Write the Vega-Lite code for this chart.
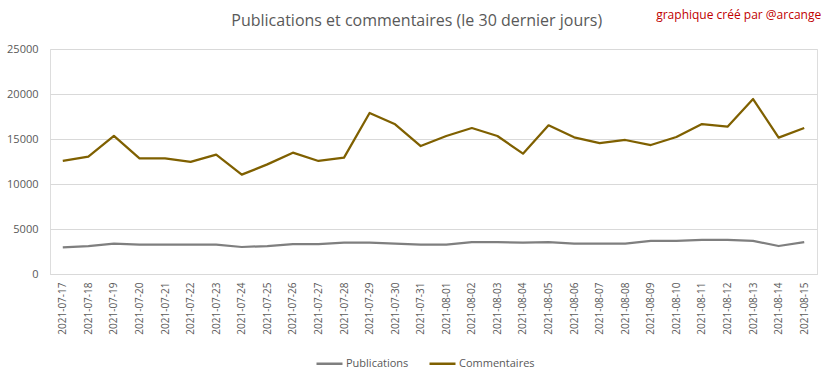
{
  "$schema": "https://vega.github.io/schema/vega-lite/v6.json",
  "width": 767,
  "height": 225,
  "autosize": {"type": "none"},
  "padding": {"left": 50, "top": 49, "right": 15, "bottom": 104},
  "background": "white",
  "datasets": {
    "series": [
      {"date": "2021-07-17", "serie": "Publications", "valeur": 2950},
      {"date": "2021-07-18", "serie": "Publications", "valeur": 3110},
      {"date": "2021-07-19", "serie": "Publications", "valeur": 3370},
      {"date": "2021-07-20", "serie": "Publications", "valeur": 3260},
      {"date": "2021-07-21", "serie": "Publications", "valeur": 3260},
      {"date": "2021-07-22", "serie": "Publications", "valeur": 3260},
      {"date": "2021-07-23", "serie": "Publications", "valeur": 3260},
      {"date": "2021-07-24", "serie": "Publications", "valeur": 3000},
      {"date": "2021-07-25", "serie": "Publications", "valeur": 3110},
      {"date": "2021-07-26", "serie": "Publications", "valeur": 3330},
      {"date": "2021-07-27", "serie": "Publications", "valeur": 3330},
      {"date": "2021-07-28", "serie": "Publications", "valeur": 3480},
      {"date": "2021-07-29", "serie": "Publications", "valeur": 3480},
      {"date": "2021-07-30", "serie": "Publications", "valeur": 3370},
      {"date": "2021-07-31", "serie": "Publications", "valeur": 3260},
      {"date": "2021-08-01", "serie": "Publications", "valeur": 3260},
      {"date": "2021-08-02", "serie": "Publications", "valeur": 3550},
      {"date": "2021-08-03", "serie": "Publications", "valeur": 3550},
      {"date": "2021-08-04", "serie": "Publications", "valeur": 3480},
      {"date": "2021-08-05", "serie": "Publications", "valeur": 3550},
      {"date": "2021-08-06", "serie": "Publications", "valeur": 3370},
      {"date": "2021-08-07", "serie": "Publications", "valeur": 3370},
      {"date": "2021-08-08", "serie": "Publications", "valeur": 3370},
      {"date": "2021-08-09", "serie": "Publications", "valeur": 3670},
      {"date": "2021-08-10", "serie": "Publications", "valeur": 3670},
      {"date": "2021-08-11", "serie": "Publications", "valeur": 3780},
      {"date": "2021-08-12", "serie": "Publications", "valeur": 3780},
      {"date": "2021-08-13", "serie": "Publications", "valeur": 3670},
      {"date": "2021-08-14", "serie": "Publications", "valeur": 3110},
      {"date": "2021-08-15", "serie": "Publications", "valeur": 3550},
      {"date": "2021-07-17", "serie": "Commentaires", "valeur": 12560},
      {"date": "2021-07-18", "serie": "Commentaires", "valeur": 13030},
      {"date": "2021-07-19", "serie": "Commentaires", "valeur": 15350},
      {"date": "2021-07-20", "serie": "Commentaires", "valeur": 12850},
      {"date": "2021-07-21", "serie": "Commentaires", "valeur": 12850},
      {"date": "2021-07-22", "serie": "Commentaires", "valeur": 12450},
      {"date": "2021-07-23", "serie": "Commentaires", "valeur": 13260},
      {"date": "2021-07-24", "serie": "Commentaires", "valeur": 11040},
      {"date": "2021-07-25", "serie": "Commentaires", "valeur": 12180},
      {"date": "2021-07-26", "serie": "Commentaires", "valeur": 13480},
      {"date": "2021-07-27", "serie": "Commentaires", "valeur": 12560},
      {"date": "2021-07-28", "serie": "Commentaires", "valeur": 12930},
      {"date": "2021-07-29", "serie": "Commentaires", "valeur": 17890},
      {"date": "2021-07-30", "serie": "Commentaires", "valeur": 16630},
      {"date": "2021-07-31", "serie": "Commentaires", "valeur": 14220},
      {"date": "2021-08-01", "serie": "Commentaires", "valeur": 15330},
      {"date": "2021-08-02", "serie": "Commentaires", "valeur": 16220},
      {"date": "2021-08-03", "serie": "Commentaires", "valeur": 15330},
      {"date": "2021-08-04", "serie": "Commentaires", "valeur": 13370},
      {"date": "2021-08-05", "serie": "Commentaires", "valeur": 16520},
      {"date": "2021-08-06", "serie": "Commentaires", "valeur": 15190},
      {"date": "2021-08-07", "serie": "Commentaires", "valeur": 14550},
      {"date": "2021-08-08", "serie": "Commentaires", "valeur": 14890},
      {"date": "2021-08-09", "serie": "Commentaires", "valeur": 14330},
      {"date": "2021-08-10", "serie": "Commentaires", "valeur": 15220},
      {"date": "2021-08-11", "serie": "Commentaires", "valeur": 16660},
      {"date": "2021-08-12", "serie": "Commentaires", "valeur": 16370},
      {"date": "2021-08-13", "serie": "Commentaires", "valeur": 19440},
      {"date": "2021-08-14", "serie": "Commentaires", "valeur": 15150},
      {"date": "2021-08-15", "serie": "Commentaires", "valeur": 16220}
    ],
    "textes": [
      {"date": "2021-08-15", "texte": "graphique créé par @arcange", "role": "credit"},
      {"date": "2021-07-31", "texte": "Publications et commentaires (le 30 dernier jours)", "role": "titre"}
    ]
  },
  "layer": [
    {
      "data": {"name": "series"},
      "mark": {"type": "line", "strokeWidth": 2.25, "strokeJoin": "round"},
      "encoding": {
        "x": {
          "field": "date",
          "type": "ordinal",
          "scale": {"type": "point", "padding": 0.5},
          "axis": {
            "title": null,
            "labelAngle": -90,
            "labelFont": "Open Sans",
            "labelFontSize": 10,
            "labelColor": "#595959",
            "labelPadding": 8,
            "ticks": false,
            "domainColor": "#d9d9d9",
            "grid": false
          }
        },
        "y": {
          "field": "valeur",
          "type": "quantitative",
          "scale": {"domain": [0, 25000], "nice": false, "zero": true},
          "axis": {
            "title": null,
            "values": [0, 5000, 10000, 15000, 20000, 25000],
            "format": "d",
            "labelFont": "Open Sans",
            "labelFontSize": 11,
            "labelColor": "#595959",
            "labelPadding": 12,
            "ticks": false,
            "domain": false,
            "gridColor": "#d9d9d9"
          }
        },
        "color": {
          "field": "serie",
          "type": "nominal",
          "scale": {"domain": ["Publications", "Commentaires"], "range": ["#7f7f7f", "#7f6000"]},
          "legend": {
            "title": null,
            "orient": "none",
            "direction": "horizontal",
            "legendX": 265,
            "legendY": 300,
            "symbolType": "stroke",
            "symbolStrokeWidth": 2.5,
            "symbolSize": 676,
            "labelFont": "Open Sans",
            "labelFontSize": 11,
            "labelColor": "#595959",
            "labelOffset": 2,
            "columnPadding": 15
          }
        }
      }
    },
    {
      "data": {"name": "textes"},
      "transform": [{"filter": "datum.role == 'credit'"}],
      "mark": {"type": "text", "align": "right", "baseline": "middle", "dx": 17, "fontSize": 12, "font": "Open Sans", "color": "#c00000", "clip": false},
      "encoding": {
        "x": {"field": "date", "type": "ordinal"},
        "y": {"value": -34},
        "text": {"field": "texte"}
      }
    },
    {
      "data": {"name": "textes"},
      "transform": [{"filter": "datum.role == 'titre'"}],
      "mark": {"type": "text", "align": "center", "baseline": "middle", "dx": -4, "fontSize": 16, "font": "Open Sans", "color": "#595959", "clip": false},
      "encoding": {
        "x": {"field": "date", "type": "ordinal"},
        "y": {"value": -28},
        "text": {"field": "texte"}
      }
    }
  ]
}
